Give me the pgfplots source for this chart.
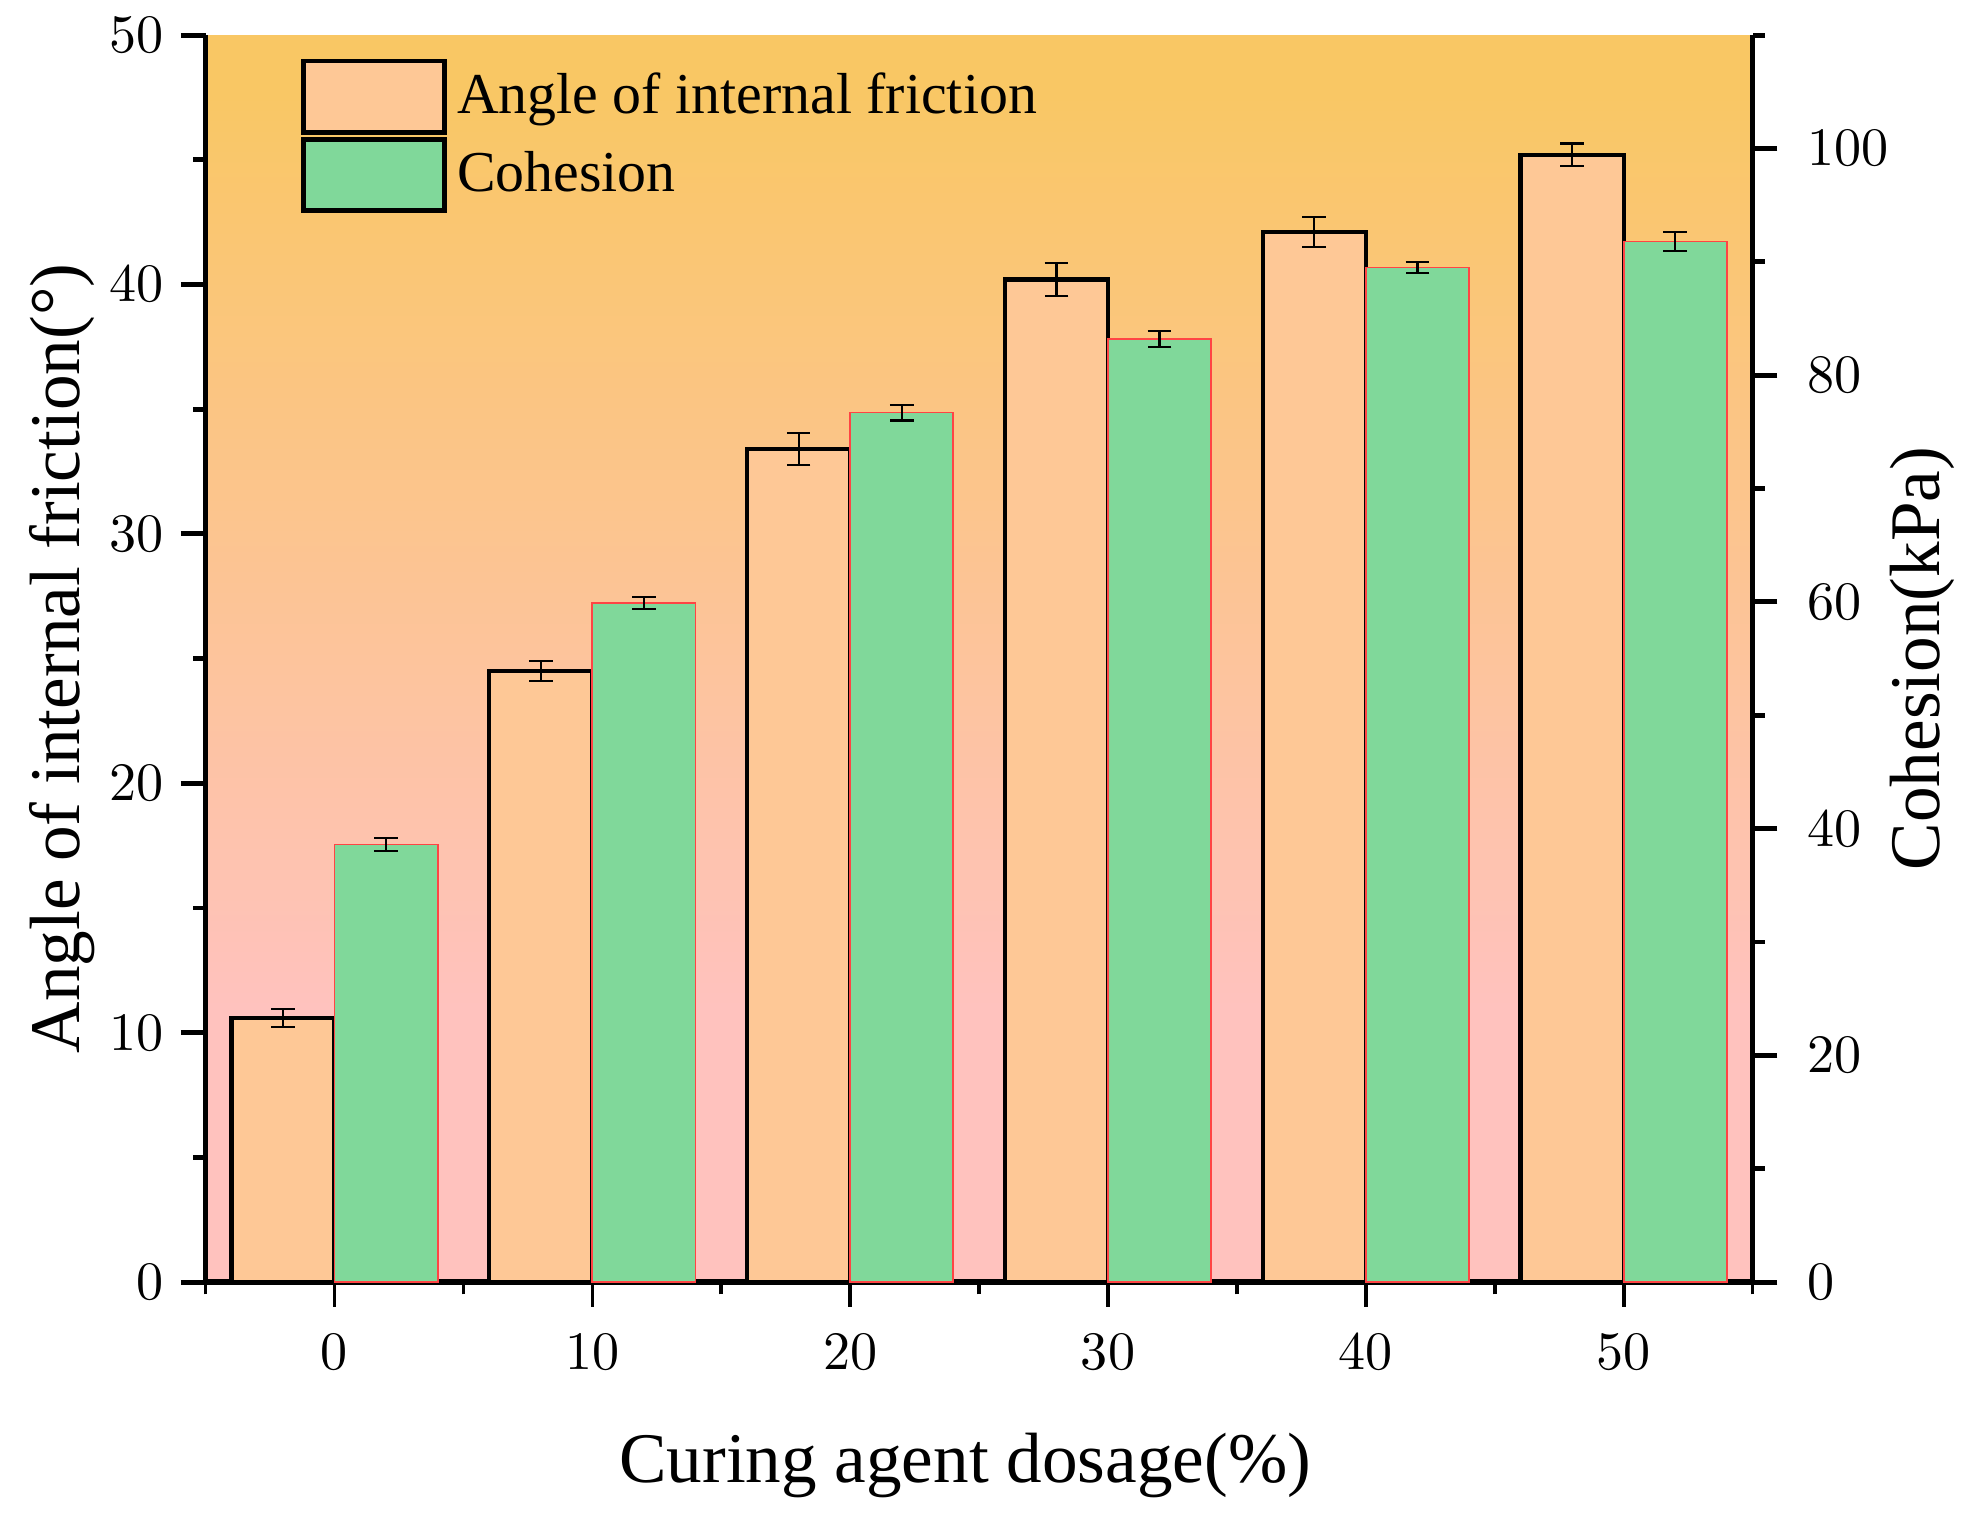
\documentclass[border=0pt]{standalone}
\usepackage{fontspec}
\setmainfont{Liberation Serif}
\usepackage{pgfplots}
\usepackage{pgfplotstable}
\pgfplotsset{compat=1.18}

\definecolor{bgorange}{HTML}{F9C764}
\definecolor{bgpink}{HTML}{FFC2BE}
\definecolor{barorange}{HTML}{FEC896}
\definecolor{bargreen}{HTML}{80D89A}
\definecolor{edgered}{HTML}{FF4444}

% background: pink at the bottom, orange at the top
\pgfdeclareverticalshading{bgshade}{100bp}{color(0bp)=(bgpink); color(36bp)=(bgpink); color(73bp)=(bgorange); color(100bp)=(bgorange)}

% dosage, angle of internal friction, error, cohesion (kPa), error
\pgfplotstableread{
x  angle angleerr coh  coherr
0  10.6  0.36     38.6 0.55
10 24.5  0.40     59.9 0.55
20 33.4  0.65     76.7 0.70
30 40.2  0.65     83.2 0.70
40 42.1  0.60     89.5 0.50
50 45.2  0.45     91.8 0.85
}\data

\begin{document}
\begin{tikzpicture}
\pgfplotsset{
  every axis/.append style={
    scale only axis, width=313pt, height=252.3pt,
    xmin=-5, xmax=55,
    tick align=outside,
    major tick length=5pt, minor tick length=2.5pt,
    tick style={black, line width=1pt},
    axis line style={-, black, line width=1.15pt},
    tick label style={font=\fontsize{10.5}{12}\selectfont},
    label style={font=\fontsize{14.4}{17}\selectfont},
  },
  errs/.style={error bars/.cd, y dir=both, y explicit,
    error bar style={line width=0.45pt, black},
    error mark options={rotate=90, mark size=2.4pt, line width=0.45pt, black}},
}
\begin{axis}[
  name=left,
  axis x line*=bottom, axis y line*=left,
  ymin=0, ymax=50,
  ytick={0,10,...,50}, minor ytick={5,15,...,45},
  xtick={0,10,...,50}, minor xtick={-5,5,...,55},
  xtick style={line width=0.75pt},
  xticklabel style={yshift=-2pt},
  xlabel={Curing agent dosage(\%)},
  ylabel={Angle of internal friction(°)},
  xlabel style={at={(rel axis cs:0.491,-0.147)}, anchor=center},
  ylabel style={at={(rel axis cs:-0.093,0.5)}, anchor=center},
  axis background/.style={shading=bgshade},
  legend style={at={(rel axis cs:0.061,0.982)}, anchor=north west,
    draw=none, fill=none, inner sep=0pt, row sep=0.3pt,
    font=\fontsize{11.7}{14}\selectfont},
  legend cell align=left,
]
\addplot[ybar, bar width=4, bar shift=0, fill=barorange, draw=black,
  line width=0.87pt, forget plot, errs]
  table[x expr=\thisrow{x}-2, y=angle, y error=angleerr]{\data};
\addlegendimage{legend image code/.code={\draw[fill=barorange, draw=black, line width=1pt] (0pt,-7.25pt) rectangle (28.6pt,7.25pt);}}
\addlegendentry{Angle of internal friction}
\addlegendimage{legend image code/.code={\draw[fill=bargreen, draw=black, line width=1pt] (0pt,-7.25pt) rectangle (28.6pt,7.25pt);}}
\addlegendentry{Cohesion}
\end{axis}
\begin{axis}[
  axis y line*=right, hide x axis,
  ymin=0, ymax=110,
  ytick={0,20,...,100}, minor ytick={10,30,...,110},
  yticklabel style={xshift=2.5pt},
  ylabel={Cohesion(kPa)},
  ylabel style={at={(rel axis cs:1.11,0.5)}, anchor=center},
]
\addplot[ybar, bar width=4, bar shift=0, fill=bargreen, draw=edgered,
  line width=0.35pt, errs]
  table[x expr=\thisrow{x}+2, y=coh, y error=coherr]{\data};
\end{axis}
\pgfresetboundingbox
\path[use as bounding box] ([shift={(-41.6pt,-51.1pt)}]left.south west)
  rectangle ([shift={(45.4pt,7.1pt)}]left.north east);
\end{tikzpicture}
\end{document}
